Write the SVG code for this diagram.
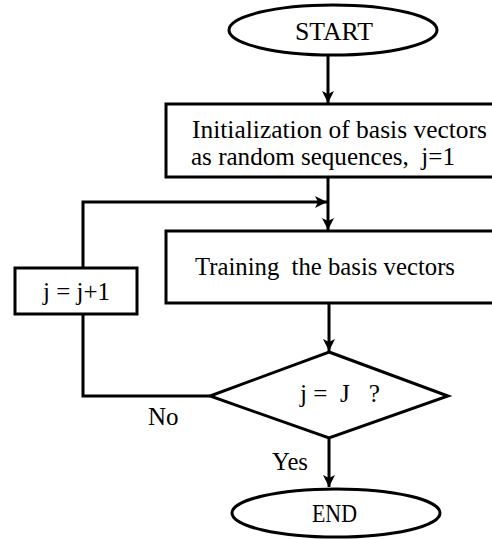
<svg xmlns="http://www.w3.org/2000/svg" width="492" height="539" viewBox="0 0 492 539" font-family="'Liberation Serif', 'Times New Roman', 'DejaVu Serif', serif">
<style>
.s{fill:#fff;stroke:#000;stroke-width:3}
.c{fill:none;stroke:#000;stroke-width:3}
text{font-family:'Liberation Serif','Times New Roman','DejaVu Serif',serif;fill:#000;font-size:25px}
.m{text-anchor:middle}
</style>
<defs>
<marker id="a" markerWidth="14" markerHeight="14" refX="12" refY="7" orient="auto" markerUnits="userSpaceOnUse">
<path d="M0,1 L12,7 L0,13 L3,7 Z" fill="#000"/>
</marker>
</defs>
<g id="connectors">
<line class="c" x1="328" y1="55" x2="328" y2="103" marker-end="url(#a)"/>
<line class="c" x1="328" y1="177" x2="328" y2="230" marker-end="url(#a)"/>
<polyline class="c" points="83,268 83,202 327,202" marker-end="url(#a)"/>
<line class="c" x1="329" y1="303" x2="329" y2="351" marker-end="url(#a)"/>
<polyline class="c" points="210,396 83,396 83,314"/>
<line class="c" x1="329" y1="438" x2="329" y2="487" marker-end="url(#a)"/>
<text x="148" y="425">No</text>
<text x="272" y="470" textLength="36" lengthAdjust="spacingAndGlyphs">Yes</text>
</g>
<g id="start">
<ellipse class="s" cx="333" cy="30" rx="104" ry="25"/>
<text x="295" y="40" textLength="78" lengthAdjust="spacingAndGlyphs">START</text>
</g>
<g id="init">
<rect class="s" x="166" y="104" width="340" height="73"/>
<text x="192" y="138" textLength="295" lengthAdjust="spacingAndGlyphs">Initialization of basis vectors</text>
<text x="191" y="165" textLength="264" lengthAdjust="spacingAndGlyphs" xml:space="preserve">as random sequences,  j=1</text>
</g>
<g id="training">
<rect class="s" x="166" y="231" width="340" height="72"/>
<text x="195" y="275" textLength="260" lengthAdjust="spacingAndGlyphs" xml:space="preserve">Training  the basis vectors</text>
</g>
<g id="increment">
<rect class="s" x="15" y="268" width="122" height="46"/>
<text x="43" y="300" textLength="67" lengthAdjust="spacingAndGlyphs" xml:space="preserve">j = j+1</text>
</g>
<g id="decision">
<polygon class="s" points="329,352 448,396 329,438 210,396"/>
<text x="300" y="402" textLength="80" lengthAdjust="spacingAndGlyphs" xml:space="preserve">j =  J   ?</text>
</g>
<g id="end">
<ellipse class="s" cx="336" cy="513" rx="104" ry="24"/>
<text x="312" y="522" textLength="45" lengthAdjust="spacingAndGlyphs">END</text>
</g>
</svg>
